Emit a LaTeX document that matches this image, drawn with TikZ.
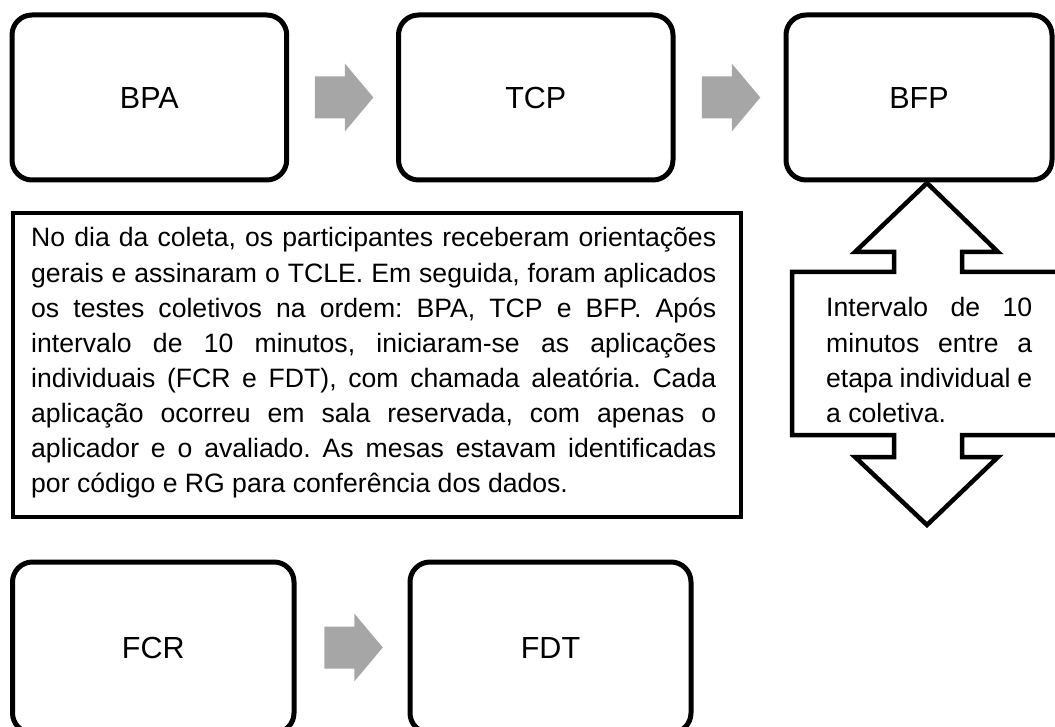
\documentclass[tikz,border=0pt]{standalone}
\usepackage{fontspec}
\setmainfont{Liberation Sans}
\usetikzlibrary{calc}
\definecolor{arrowgray}{RGB}{166,166,166}
\hyphenpenalty=10000
\exhyphenpenalty=10000
\tolerance=10000
\frenchspacing
\begin{document}
\begin{tikzpicture}[x=1pt,y=-1pt,
  stepbox/.style={draw=black, line width=5pt, rounded corners=20pt, fill=white, inner sep=0pt,
    font=\fontsize{30.5}{36}\selectfont, text height=21.8pt, text depth=0pt},
  notebox/.style={draw=black, line width=3.6pt, inner sep=0pt, fill=white},
  bodytext/.style={inner sep=0pt, align=justify, font=\fontsize{26.6}{35.1}\selectfont\frenchspacing},
  blockarrow/.pic={\fill[arrowgray] (-29.25,-21) -- (0.75,-21) -- (0.75,-34) -- (29.25,0)
      -- (0.75,34) -- (0.75,21) -- (-29.25,21) -- cycle;}
]
\useasboundingbox (0,0) rectangle (1055,727);
\clip (0,0) rectangle (1055,727);

% top row
\node[stepbox, minimum width=274.7pt, minimum height=165pt] (bpa) at (149.35,97.5) {BPA};
\node[stepbox, minimum width=274.5pt, minimum height=165pt] (tcp) at (535.75,97.5) {TCP};
\node[stepbox, minimum width=266pt, minimum height=165pt] (bfp) at (919,97.5) {BFP};

% bottom row
\node[stepbox, minimum width=281.5pt, minimum height=171pt] (fcr) at (153.25,647.5) {FCR};
\node[stepbox, minimum width=281pt, minimum height=171pt] (fdt) at (550.5,647.5) {FDT};

% gray block arrows between boxes
\pic at ($(bpa.east)!0.5!(tcp.west)+(1.5,0)$) {blockarrow};
\pic at ($(tcp.east)!0.5!(bfp.west)+(1.5,0)$) {blockarrow};
\pic at ($(fcr.east)!0.5!(fdt.west)+(1.5,0)$) {blockarrow};

% description box
\node[notebox, anchor=north west, minimum width=728pt, minimum height=304pt] (notes) at (11,211) {};
\node[bodytext, anchor=base west, text width=685pt] (notestext) at (31,247)
{No dia da coleta, os participantes receberam orientações\linebreak
gerais e assinaram o TCLE. Em seguida, foram aplicados\linebreak
os testes coletivos na ordem: BPA, TCP e BFP. Após\linebreak
intervalo de 10 minutos, iniciaram-se as aplicações\linebreak
individuais (FCR e FDT), com chamada aleatória. Cada\linebreak
aplicação ocorreu em sala reservada, com apenas o\linebreak
aplicador e o avaliado. As mesas estavam identificadas\linebreak
por código e RG para conferência dos dados.};

% up-down arrow box
\draw[line width=4.5pt, fill=white]
  (927,183) -- (998,252) -- (962,252) -- (962,272) -- (1062,272) -- (1062,435)
  -- (962,435) -- (962,457) -- (998,457) -- (927,525) -- (855,457) -- (894,457)
  -- (894,435) -- (792,435) -- (792,272) -- (894,272) -- (894,252) -- (855,252) -- cycle;
\node[bodytext, anchor=base west, text width=206pt] (pause) at (826,317)
{Intervalo de 10\linebreak
minutos entre a\linebreak
etapa individual e\linebreak
a coletiva.};
\end{tikzpicture}
\end{document}
